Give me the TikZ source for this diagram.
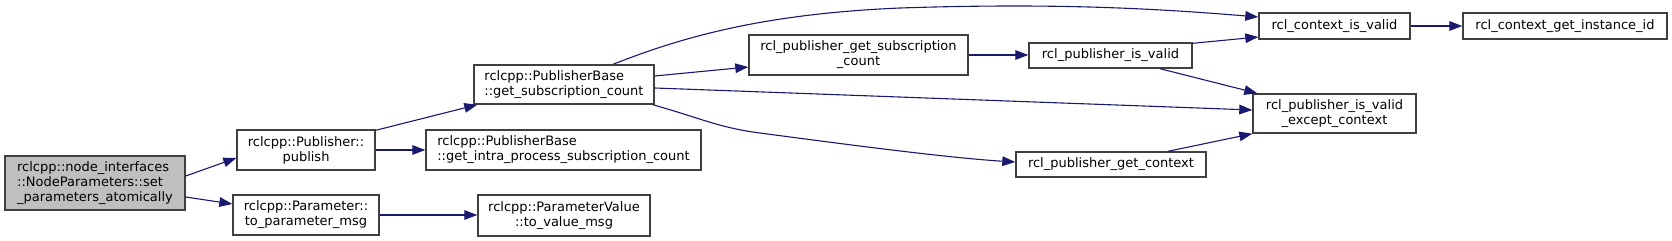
\documentclass[tikz,border=0pt]{standalone}
\usepackage{fontspec}
\newfontfamily\dvs{DejaVu Sans}
\usetikzlibrary{arrows.meta}
\definecolor{edgeblue}{HTML}{191970}
\definecolor{boxborder}{HTML}{404040}
\definecolor{mainfill}{HTML}{BFBFBF}
\begin{document}
\begin{tikzpicture}[x=0.5pt,y=-0.5pt,
  fn/.style={draw=boxborder, line width=0.7pt, fill=white, inner sep=0pt,
    font=\dvs\fontsize{6.5}{7.5}\selectfont, text=black, align=center},
  fnl/.style={fn, align=left},
  conn/.style={draw=edgeblue, line width=0.55pt, -{Triangle[length=6.5pt,width=4.8pt]}}]
\useasboundingbox (0,0) rectangle (1672,241);
% nodes
\node[fnl, fill=mainfill, minimum width=90pt, minimum height=27pt] (main) at (95,183)
  {rclcpp::node\_interfaces\\::NodeParameters::set\\\_parameters\_atomically};
\node[fn, minimum width=69pt, minimum height=20pt] (publish) at (306,150)
  {rclcpp::Publisher::\\publish};
\node[fn, minimum width=73pt, minimum height=20pt] (toparam) at (306,215)
  {rclcpp::Parameter::\\to\_parameter\_msg};
\node[fnl, minimum width=90pt, minimum height=19.5pt] (pbsub) at (564,84.5)
  {rclcpp::PublisherBase\\::get\_subscription\_count};
\node[fnl, minimum width=137.5pt, minimum height=20pt] (intra) at (563.5,150)
  {rclcpp::PublisherBase\\::get\_intra\_process\_subscription\_count};
\node[fn, minimum width=86pt, minimum height=20.5pt] (pvalue) at (564,215.5)
  {rclcpp::ParameterValue\\::to\_value\_msg};
\node[fn, minimum width=109.5pt, minimum height=20pt] (rplsub) at (858.5,55)
  {rcl\_publisher\_get\_subscription\\\_count};
\node[fn, minimum width=81.5pt, minimum height=12.5pt] (rpisvalid) at (1110.5,55.5)
  {rcl\_publisher\_is\_valid};
\node[fn, minimum width=95pt, minimum height=12.5pt] (rpgetctx) at (1111,164.5)
  {rcl\_publisher\_get\_context};
\node[fn, minimum width=75.5pt, minimum height=13pt] (rctxvalid) at (1334.5,26)
  {rcl\_context\_is\_valid};
\node[fn, minimum width=81.5pt, minimum height=19.5pt] (rpexcept) at (1334.5,113.5)
  {rcl\_publisher\_is\_valid\\\_except\_context};
\node[fn, minimum width=102pt, minimum height=13pt] (rctxinst) at (1565,26)
  {rcl\_context\_get\_instance\_id};
% connectors
\draw[conn] ([yshift=3.5pt]main.east) -- ([yshift=-4pt]publish.west);
\draw[conn] ([yshift=-7pt]main.east) -- ([yshift=5.5pt]toparam.west);
\draw[conn] ([yshift=-0.5pt]publish.north east) -- ([xshift=2pt]pbsub.south west);
\draw[conn] (publish.east) -- (intra.west);
\draw[conn] (toparam.east) -- (toparam.east -| pvalue.west);
\draw[conn] ([xshift=24.5pt]pbsub.north) .. controls (680,38) and (760,14) .. (900,8)
  .. controls (1050,3) and (1150,8) .. ([yshift=4.5pt]rctxvalid.west);
\draw[conn] ([yshift=4.25pt]pbsub.east) -- ([yshift=-6pt]rplsub.west);
\draw[conn] ([yshift=-1.75pt]pbsub.east) -- ([yshift=1.75pt]rpexcept.west);
\draw[conn] ([xshift=-1pt]pbsub.south east) .. controls (700,118) and (720,128) .. (760,133)
  .. controls (850,145) and (950,158) .. ([yshift=1.25pt]rpgetctx.west);
\draw[conn] (rplsub.east) -- (rplsub.east -| rpisvalid.west);
\draw[conn] ([yshift=-0.5pt]rpisvalid.north east) -- ([yshift=-5.5pt]rctxvalid.west);
\draw[conn] ([xshift=24.75pt]rpisvalid.south) -- ([xshift=2.5pt]rpexcept.north west);
\draw[conn] ([xshift=28.5pt]rpgetctx.north) -- (rpexcept.south west);
\draw[conn] (rctxvalid.east) -- (rctxinst.west);
\end{tikzpicture}
\end{document}
